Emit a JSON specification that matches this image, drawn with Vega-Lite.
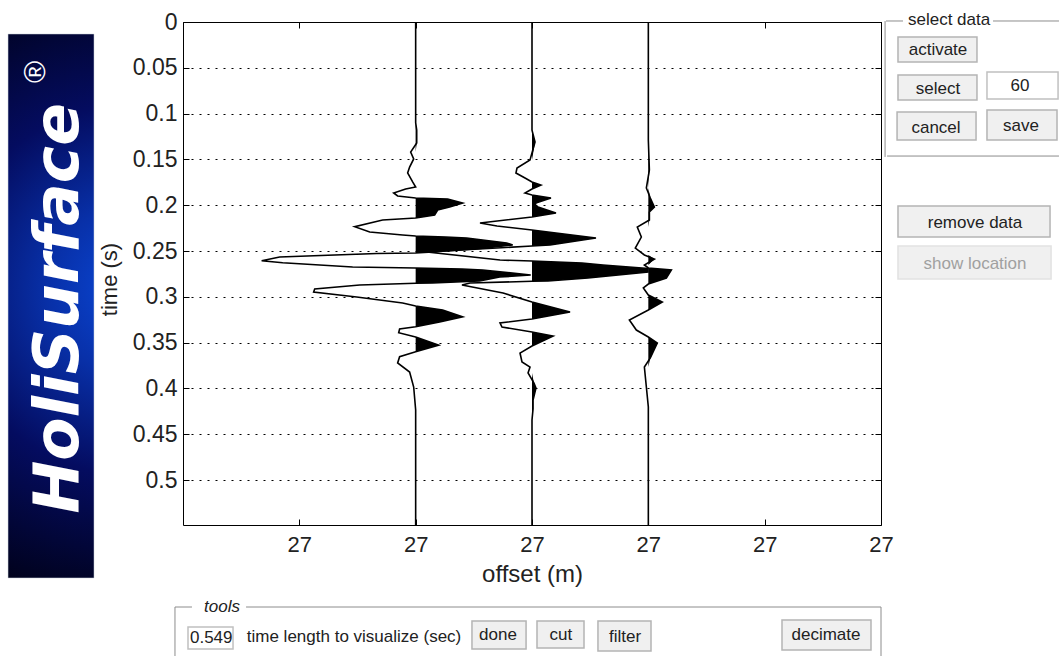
{
"$schema":"https://vega.github.io/schema/vega-lite/v6.json",
"width":698,"height":503,"autosize":"none",
"padding":{"left":183,"top":22,"right":178,"bottom":131},
"background":"white",
"config":{"view":{"stroke":null},"font":"Liberation Sans"},
"datasets":{
"traces":[
{"trace":"A","base":2,"time":0,"offset":2},{"trace":"A","base":2,"time":0.11,"offset":2},{"trace":"A","base":2,"time":0.1179,"offset":2.009},{"trace":"A","base":2,"time":0.1321,"offset":2.009},{"trace":"A","base":2,"time":0.1419,"offset":1.957},{"trace":"A","base":2,"time":0.1495,"offset":1.983},{"trace":"A","base":2,"time":0.1583,"offset":1.948},{"trace":"A","base":2,"time":0.1648,"offset":1.931},{"trace":"A","base":2,"time":0.1746,"offset":1.974},{"trace":"A","base":2,"time":0.1801,"offset":2},{"trace":"A","base":2,"time":0.1823,"offset":1.914},{"trace":"A","base":2,"time":0.1866,"offset":1.811},{"trace":"A","base":2,"time":0.1899,"offset":1.845},{"trace":"A","base":2,"time":0.1921,"offset":2},{"trace":"A","base":2,"time":0.1932,"offset":2.275},{"trace":"A","base":2,"time":0.1976,"offset":2.404},{"trace":"A","base":2,"time":0.2019,"offset":2.292},{"trace":"A","base":2,"time":0.2052,"offset":2.189},{"trace":"A","base":2,"time":0.2107,"offset":2.163},{"trace":"A","base":2,"time":0.2139,"offset":2},{"trace":"A","base":2,"time":0.2161,"offset":1.716},{"trace":"A","base":2,"time":0.2234,"offset":1.476},{"trace":"A","base":2,"time":0.2292,"offset":1.605},{"trace":"A","base":2,"time":0.2325,"offset":1.888},{"trace":"A","base":2,"time":0.2336,"offset":2},{"trace":"A","base":2,"time":0.2347,"offset":2.258},{"trace":"A","base":2,"time":0.2358,"offset":2.438},{"trace":"A","base":2,"time":0.2412,"offset":2.782},{"trace":"A","base":2,"time":0.2434,"offset":2.834},{"trace":"A","base":2,"time":0.2467,"offset":2.602},{"trace":"A","base":2,"time":0.251,"offset":2.146},{"trace":"A","base":2,"time":0.2521,"offset":2},{"trace":"A","base":2,"time":0.2527,"offset":1.665},{"trace":"A","base":2,"time":0.2565,"offset":0.831},{"trace":"A","base":2,"time":0.2605,"offset":0.676},{"trace":"A","base":2,"time":0.2627,"offset":0.857},{"trace":"A","base":2,"time":0.2674,"offset":1.458},{"trace":"A","base":2,"time":0.2685,"offset":2},{"trace":"A","base":2,"time":0.2696,"offset":2.4},{"trace":"A","base":2,"time":0.2707,"offset":2.576},{"trace":"A","base":2,"time":0.2762,"offset":2.989},{"trace":"A","base":2,"time":0.2783,"offset":2.722},{"trace":"A","base":2,"time":0.2827,"offset":2.55},{"trace":"A","base":2,"time":0.2849,"offset":2.146},{"trace":"A","base":2,"time":0.2852,"offset":2},{"trace":"A","base":2,"time":0.2871,"offset":1.519},{"trace":"A","base":2,"time":0.2914,"offset":1.132},{"trace":"A","base":2,"time":0.2947,"offset":1.123},{"trace":"A","base":2,"time":0.3002,"offset":1.493},{"trace":"A","base":2,"time":0.3067,"offset":1.888},{"trace":"A","base":2,"time":0.31,"offset":2},{"trace":"A","base":2,"time":0.3144,"offset":2.232},{"trace":"A","base":2,"time":0.3217,"offset":2.404},{"trace":"A","base":2,"time":0.3275,"offset":2.206},{"trace":"A","base":2,"time":0.3326,"offset":2},{"trace":"A","base":2,"time":0.3351,"offset":1.862},{"trace":"A","base":2,"time":0.3391,"offset":1.854},{"trace":"A","base":2,"time":0.3438,"offset":2},{"trace":"A","base":2,"time":0.3526,"offset":2.198},{"trace":"A","base":2,"time":0.3599,"offset":2},{"trace":"A","base":2,"time":0.3653,"offset":1.862},{"trace":"A","base":2,"time":0.3722,"offset":1.845},{"trace":"A","base":2,"time":0.382,"offset":1.948},{"trace":"A","base":2,"time":0.3984,"offset":1.983},{"trace":"A","base":2,"time":0.4235,"offset":2},{"trace":"A","base":2,"time":0.549,"offset":2},
{"trace":"B","base":3,"time":0,"offset":3},{"trace":"B","base":3,"time":0.118,"offset":3},{"trace":"B","base":3,"time":0.131,"offset":3.026},{"trace":"B","base":3,"time":0.1506,"offset":2.983},{"trace":"B","base":3,"time":0.1594,"offset":2.871},{"trace":"B","base":3,"time":0.1648,"offset":2.862},{"trace":"B","base":3,"time":0.1703,"offset":2.94},{"trace":"B","base":3,"time":0.1746,"offset":3},{"trace":"B","base":3,"time":0.1779,"offset":3.077},{"trace":"B","base":3,"time":0.1823,"offset":3},{"trace":"B","base":3,"time":0.1866,"offset":2.94},{"trace":"B","base":3,"time":0.1888,"offset":3},{"trace":"B","base":3,"time":0.1921,"offset":3.163},{"trace":"B","base":3,"time":0.1976,"offset":3.034},{"trace":"B","base":3,"time":0.2008,"offset":3.026},{"trace":"B","base":3,"time":0.2085,"offset":3.206},{"trace":"B","base":3,"time":0.2128,"offset":3},{"trace":"B","base":3,"time":0.2194,"offset":2.553},{"trace":"B","base":3,"time":0.2227,"offset":2.699},{"trace":"B","base":3,"time":0.227,"offset":3},{"trace":"B","base":3,"time":0.2358,"offset":3.55},{"trace":"B","base":3,"time":0.2434,"offset":3.155},{"trace":"B","base":3,"time":0.2445,"offset":3},{"trace":"B","base":3,"time":0.251,"offset":2.097},{"trace":"B","base":3,"time":0.2598,"offset":2.725},{"trace":"B","base":3,"time":0.2609,"offset":3},{"trace":"B","base":3,"time":0.2631,"offset":3.43},{"trace":"B","base":3,"time":0.2652,"offset":3.61},{"trace":"B","base":3,"time":0.269,"offset":3.997},{"trace":"B","base":3,"time":0.2729,"offset":3.997},{"trace":"B","base":3,"time":0.2794,"offset":3.481},{"trace":"B","base":3,"time":0.2827,"offset":3.138},{"trace":"B","base":3,"time":0.283,"offset":3},{"trace":"B","base":3,"time":0.2849,"offset":2.467},{"trace":"B","base":3,"time":0.2871,"offset":2.398},{"trace":"B","base":3,"time":0.2958,"offset":2.751},{"trace":"B","base":3,"time":0.3056,"offset":3},{"trace":"B","base":3,"time":0.3165,"offset":3.327},{"trace":"B","base":3,"time":0.3242,"offset":3},{"trace":"B","base":3,"time":0.3285,"offset":2.725},{"trace":"B","base":3,"time":0.3329,"offset":2.742},{"trace":"B","base":3,"time":0.3384,"offset":3},{"trace":"B","base":3,"time":0.3427,"offset":3.181},{"trace":"B","base":3,"time":0.3536,"offset":3},{"trace":"B","base":3,"time":0.3613,"offset":2.897},{"trace":"B","base":3,"time":0.3711,"offset":2.914},{"trace":"B","base":3,"time":0.3766,"offset":2.983},{"trace":"B","base":3,"time":0.3831,"offset":2.966},{"trace":"B","base":3,"time":0.394,"offset":3.017},{"trace":"B","base":3,"time":0.3995,"offset":3.034},{"trace":"B","base":3,"time":0.4126,"offset":3.009},{"trace":"B","base":3,"time":0.4224,"offset":3.009},{"trace":"B","base":3,"time":0.4344,"offset":3},{"trace":"B","base":3,"time":0.549,"offset":3},
{"trace":"C","base":4,"time":0,"offset":4},{"trace":"C","base":4,"time":0.1288,"offset":4},{"trace":"C","base":4,"time":0.1615,"offset":4.009},{"trace":"C","base":4,"time":0.1812,"offset":3.983},{"trace":"C","base":4,"time":0.1921,"offset":4.017},{"trace":"C","base":4,"time":0.2019,"offset":4.052},{"trace":"C","base":4,"time":0.2074,"offset":4.009},{"trace":"C","base":4,"time":0.2161,"offset":4.009},{"trace":"C","base":4,"time":0.2238,"offset":3.905},{"trace":"C","base":4,"time":0.2347,"offset":3.94},{"trace":"C","base":4,"time":0.2467,"offset":3.888},{"trace":"C","base":4,"time":0.2543,"offset":3.966},{"trace":"C","base":4,"time":0.2587,"offset":4.052},{"trace":"C","base":4,"time":0.2652,"offset":3.966},{"trace":"C","base":4,"time":0.2685,"offset":4},{"trace":"C","base":4,"time":0.2707,"offset":4.198},{"trace":"C","base":4,"time":0.2794,"offset":4.155},{"trace":"C","base":4,"time":0.286,"offset":4},{"trace":"C","base":4,"time":0.2903,"offset":3.957},{"trace":"C","base":4,"time":0.298,"offset":4},{"trace":"C","base":4,"time":0.3056,"offset":4.12},{"trace":"C","base":4,"time":0.3144,"offset":4},{"trace":"C","base":4,"time":0.3253,"offset":3.837},{"trace":"C","base":4,"time":0.3362,"offset":3.897},{"trace":"C","base":4,"time":0.3438,"offset":4},{"trace":"C","base":4,"time":0.3504,"offset":4.077},{"trace":"C","base":4,"time":0.3667,"offset":4.017},{"trace":"C","base":4,"time":0.3766,"offset":3.966},{"trace":"C","base":4,"time":0.3984,"offset":3.983},{"trace":"C","base":4,"time":0.4202,"offset":4},{"trace":"C","base":4,"time":0.549,"offset":4}
],
"frames":[
{"a":-0.069,"b":0.077,"c":0.6385,"d":0.6385},{"a":0.542,"b":6.0,"c":0.6385,"d":0.6385},{"a":-0.069,"b":-0.069,"c":0.6385,"d":0.692},{"a":6.0,"b":6.0,"c":0.6385,"d":0.692},
{"a":6.043,"b":6.189,"c":-0.0011,"d":-0.0011},{"a":6.963,"b":7.53,"c":-0.0011,"d":-0.0011},{"a":6.035,"b":6.035,"c":-0.0011,"d":0.1473},{"a":6.052,"b":7.53,"c":0.1463,"d":0.1463}
],
"buttons":[
{"name":"activate","a":6.146,"b":6.825,"c":0.0164,"d":0.0437,"state":"on"},
{"name":"select","a":6.146,"b":6.825,"c":0.0578,"d":0.0851,"state":"on"},
{"name":"cancel","a":6.138,"b":6.817,"c":0.0982,"d":0.1288,"state":"on"},
{"name":"save","a":6.911,"b":7.513,"c":0.096,"d":0.1288,"state":"on"},
{"name":"remove data","a":6.146,"b":7.453,"c":0.2008,"d":0.2347,"state":"on"},
{"name":"show location","a":6.146,"b":7.462,"c":0.2445,"d":0.2805,"state":"off"},
{"name":"done","a":2.484,"b":2.949,"c":0.6538,"d":0.6843,"state":"on"},
{"name":"cut","a":3.043,"b":3.447,"c":0.6538,"d":0.6832,"state":"on"},
{"name":"filter","a":3.567,"b":4.023,"c":0.6538,"d":0.6865,"state":"on"},
{"name":"decimate","a":5.149,"b":5.914,"c":0.6527,"d":0.6854,"state":"on"}
],
"labels":[
{"text":"activate","x":6.49,"y":0.0306,"state":"on"},
{"text":"select","x":6.49,"y":0.0731,"state":"on"},
{"text":"cancel","x":6.473,"y":0.1157,"state":"on"},
{"text":"save","x":7.204,"y":0.1135,"state":"on"},
{"text":"60","x":7.195,"y":0.0699,"state":"on"},
{"text":"remove data","x":6.808,"y":0.2194,"state":"on"},
{"text":"show location","x":6.808,"y":0.2641,"state":"off"},
{"text":"select data","x":6.585,"y":-0.0022,"state":"on"},
{"text":"time length to visualize (sec)","x":1.47,"y":0.6712,"state":"on"},
{"text":"done","x":2.708,"y":0.6691,"state":"on"},
{"text":"cut","x":3.249,"y":0.6691,"state":"on"},
{"text":"filter","x":3.8,"y":0.6712,"state":"on"},
{"text":"decimate","x":5.527,"y":0.6691,"state":"on"}
],
"inputs":[
{"a":6.911,"b":7.522,"c":0.0546,"d":0.084},
{"a":0.043,"b":0.43,"c":0.6603,"d":0.6843}
]
},
"resolve":{"axis":{"x":"independent","y":"independent"}},
"layer":[
{"data":{"name":"traces"},
 "transform":[{"calculate":"max(datum.offset,datum.base)","as":"filled"}],
 "mark":{"type":"area","orient":"horizontal","fill":"black","opacity":1,"line":false},
 "encoding":{
  "y":{"field":"time","type":"quantitative","scale":{"domain":[0,0.549],"reverse":true,"nice":false,"zero":false},
   "axis":{"orient":"left","values":[0,0.05,0.1,0.15,0.2,0.25,0.3,0.35,0.4,0.45,0.5],"format":"~g","title":"time (s)","titleY":257,"grid":true,"gridColor":"black","gridDash":[2,6],"gridOpacity":1,"gridWidth":1,"domainColor":"black","tickColor":"black","tickSize":-6,"labelFontSize":23,"titleFontSize":22,"labelFont":"Liberation Sans","titleFont":"Liberation Sans","titleFontWeight":"normal","labelColor":"#222","titleColor":"#222","labelPadding":12,"titlePadding":11,"labelOverlap":false,"labelFlush":false}},
  "x":{"field":"filled","type":"quantitative","stack":null,"scale":{"domain":[0,6],"nice":false,"zero":false},
   "axis":{"orient":"bottom","values":[1,2,3,4,5,6],"labelExpr":"'27'","title":"offset (m)","grid":false,"domainColor":"black","tickColor":"black","tickSize":-6,"labelFontSize":22,"titleFontSize":24,"labelFont":"Liberation Sans","titleFont":"Liberation Sans","titleFontWeight":"normal","labelColor":"#222","titleColor":"#222","labelPadding":15,"titlePadding":7,"labelFlush":false,"labelOverlap":false}},
  "x2":{"field":"base"},
  "detail":{"field":"trace"}
 }},
{"data":{"name":"traces"},
 "mark":{"type":"line","color":"black","strokeWidth":1.6,"interpolate":"linear"},
 "encoding":{
  "x":{"field":"offset","type":"quantitative","scale":{"domain":[0,6],"nice":false,"zero":false},
   "axis":{"orient":"top","values":[1,2,3,4,5,6],"labels":false,"title":null,"grid":false,"domainColor":"black","tickColor":"black","tickSize":-6}},
  "y":{"field":"time","type":"quantitative","scale":{"domain":[0,0.549],"reverse":true,"nice":false,"zero":false},
   "axis":{"orient":"right","values":[0,0.05,0.1,0.15,0.2,0.25,0.3,0.35,0.4,0.45,0.5],"labels":false,"title":null,"grid":false,"domainColor":"black","tickColor":"black","tickSize":-6}},
  "detail":{"field":"trace"},
  "order":{"field":"time","type":"quantitative"}
 }},
{"data":{"values":[{"a":-1.504,"b":-0.765,"c":0.0131,"d":0.6068}]},
 "mark":{"type":"rect","stroke":"#c8d0d8","strokeWidth":0.5,"fill":{"gradient":"radial","x1":0.65,"y1":0.47,"r1":0,"x2":0.65,"y2":0.47,"r2":0.62,"stops":[{"offset":0,"color":"#0a48d8"},{"offset":0.25,"color":"#0830a8"},{"offset":0.55,"color":"#040c60"},{"offset":1,"color":"#000010"}]}},
 "encoding":{"x":{"field":"a","type":"quantitative","axis":null},"x2":{"field":"b"},"y":{"field":"c","type":"quantitative","axis":null},"y2":{"field":"d"}}},
{"data":{"values":[{"text":"HoliSurface","x":-1.066,"y":0.3125}]},
 "mark":{"type":"text","font":"DejaVu Sans","fontWeight":"bold","fontStyle":"italic","fontSize":63,"angle":270,"color":"white","align":"center","baseline":"middle"},
 "encoding":{"text":{"field":"text"},"x":{"field":"x","type":"quantitative","axis":null},"y":{"field":"y","type":"quantitative","axis":null}}},
{"data":{"values":[{"text":"®","x":-1.264,"y":0.0546}]},
 "mark":{"type":"text","font":"Liberation Sans","fontSize":30,"angle":270,"color":"white","align":"center","baseline":"middle"},
 "encoding":{"text":{"field":"text"},"x":{"field":"x","type":"quantitative","axis":null},"y":{"field":"y","type":"quantitative","axis":null}}},
{"data":{"name":"frames"},
 "mark":{"type":"rule","color":"#8c8c8c","strokeWidth":1},
 "encoding":{"x":{"field":"a","type":"quantitative","axis":null},"x2":{"field":"b"},"y":{"field":"c","type":"quantitative","axis":null},"y2":{"field":"d"}}},
{"data":{"name":"buttons"},
 "mark":{"type":"rect","fill":"#f0f0f0","strokeWidth":1.5},
 "encoding":{"x":{"field":"a","type":"quantitative","axis":null},"x2":{"field":"b"},"y":{"field":"c","type":"quantitative","axis":null},"y2":{"field":"d"},
  "stroke":{"field":"state","type":"nominal","legend":null,"scale":{"domain":["on","off"],"range":["#b4b4b4","#e2e2e2"]}}}},
{"data":{"name":"inputs"},
 "mark":{"type":"rect","fill":"white","stroke":"#c0c0c0","strokeWidth":1.5},
 "encoding":{"x":{"field":"a","type":"quantitative","axis":null},"x2":{"field":"b"},"y":{"field":"c","type":"quantitative","axis":null},"y2":{"field":"d"}}},
{"data":{"name":"labels"},
 "mark":{"type":"text","font":"Liberation Sans","fontSize":17,"align":"center","baseline":"middle"},
 "encoding":{"text":{"field":"text"},"x":{"field":"x","type":"quantitative","axis":null},"y":{"field":"y","type":"quantitative","axis":null},
  "color":{"field":"state","type":"nominal","legend":null,"scale":{"domain":["on","off"],"range":["#222222","#a0a0a0"]}}}},
{"data":{"values":[{"text":"tools","x":0.335,"y":0.6385}]},
 "mark":{"type":"text","font":"Liberation Sans","fontSize":17,"fontStyle":"italic","color":"#222","align":"center","baseline":"middle"},
 "encoding":{"text":{"field":"text"},"x":{"field":"x","type":"quantitative","axis":null},"y":{"field":"y","type":"quantitative","axis":null}}},
{"data":{"values":[{"text":"0.549","x":0.06,"y":0.6723}]},
 "mark":{"type":"text","font":"Liberation Sans","fontSize":17,"color":"#222","align":"left","baseline":"middle"},
 "encoding":{"text":{"field":"text"},"x":{"field":"x","type":"quantitative","axis":null},"y":{"field":"y","type":"quantitative","axis":null}}}
]
}
